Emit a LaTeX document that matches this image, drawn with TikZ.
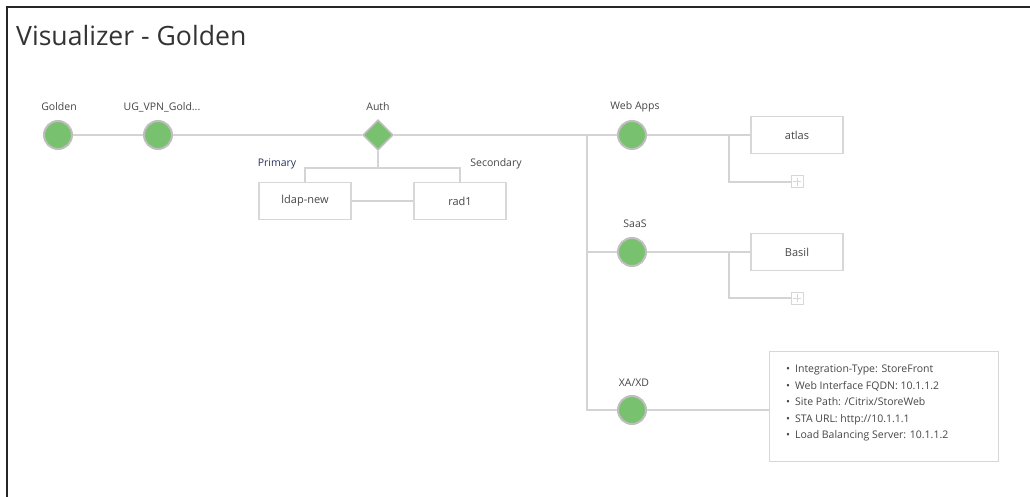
\documentclass[tikz,border=0pt]{standalone}
\usepackage{fontspec}
\setmainfont{Open Sans}
\usetikzlibrary{shapes.geometric}
\definecolor{nodegreen}{RGB}{120,193,110}
\definecolor{ringgray}{RGB}{190,190,190}
\definecolor{linegray}{RGB}{212,212,212}
\definecolor{boxgray}{RGB}{215,215,215}
\definecolor{txt}{RGB}{70,70,70}
\definecolor{navy}{RGB}{40,50,95}
\tikzset{
  dot/.style={circle, fill=nodegreen, draw=ringgray, line width=2pt, minimum size=28pt, inner sep=0pt},
  gate/.style={diamond, fill=nodegreen, draw=ringgray, line width=1.6pt, minimum size=30pt, inner sep=0pt},
  lbl/.style={font=\fontsize{10.5}{12}\selectfont, text=txt, inner sep=0pt},
  card/.style={draw=boxgray, line width=1.3pt, fill=white, minimum width=92pt, minimum height=37pt, inner sep=0pt, font=\fontsize{11}{13}\selectfont, text=txt},
  plusbox/.style={draw=boxgray, line width=1pt, fill=white, minimum size=12pt, inner sep=0pt},
  wire/.style={draw=linegray, line width=1.5pt},
}
\begin{document}
\begin{tikzpicture}[x=1pt,y=-1pt]
\useasboundingbox (0,0) rectangle (1030,497);
\fill[white] (0,0) rectangle (1030,497);
\draw[line width=2.2pt, black!85] (7,497) -- (7,7) -- (1030,7);
\node[anchor=west, font=\fontsize{26.6}{30}\selectfont, text=black!80, inner sep=0pt] (title) at (16,36) {Visualizer - Golden};

% main chain
\node[dot] (golden) at (58,135) {};
\node[dot] (ug) at (158,135) {};
\node[gate] (auth) at (378,135) {};
\node[dot] (web) at (632,135) {};
\node[dot] (saas) at (632,252) {};
\node[dot] (xa) at (632,410) {};

\node[lbl] (lgolden) at (59,107) {Golden};
\node[lbl] (lug) at (162,107) {UG\_VPN\_Gold...};
\node[lbl] (lauth) at (378,107) {Auth};
\node[lbl] (lweb) at (635,107) {Web Apps};
\node[lbl] (lsaas) at (635,224) {SaaS};
\node[lbl] (lxa) at (634,383) {XA/XD};

\coordinate (jn) at (587,135);
\coordinate (jx) at (587,410);
\coordinate (jsaas) at (587,252);

\path[wire] (golden) -- (ug);
\path[wire] (ug) -- (auth);
\path[wire] (auth) -- (jn) -- (web);
\path[wire] (jn) -- (jx) -- (xa);
\path[wire] (jsaas) -- (saas);

% auth branch
\node[card] (ldap) at (305,201) {ldap-new};
\node[card] (rad) at (460,201) {rad1};
\node[lbl, text=navy] (lprim) at (277,164) {Primary};
\node[lbl] (lsec) at (496,164) {Secondary};
\coordinate (ah) at (378,168);
\path[wire] (auth.south) -- (ah);
\path[wire] (ldap.north) -- (305,168) -- (460,168) -- (rad.north);
\path[wire] (ldap) -- (rad);

% web apps branch
\node[card] (atlas) at (797,135) {atlas};
\node[plusbox] (p1) at (797,182) {};
\draw[boxgray, line width=1pt] (p1.center) +(-4,0) -- +(4,0) (p1.center) +(0,-4) -- +(0,4);
\coordinate (w1) at (729,135);
\path[wire] (web) -- (atlas);
\path[wire] (w1) |- (p1);

% saas branch
\node[card] (basil) at (797,252) {Basil};
\node[plusbox] (p2) at (797,298) {};
\draw[boxgray, line width=1pt] (p2.center) +(-4,0) -- +(4,0) (p2.center) +(0,-4) -- +(0,4);
\coordinate (s1) at (729,252);
\path[wire] (saas) -- (basil);
\path[wire] (s1) |- (p2);

% xa/xd details
\node[draw=boxgray, line width=1.3pt, fill=white, anchor=north west, minimum width=229pt, minimum height=110pt, inner sep=0pt] (info) at (769,351) {};
\node[anchor=north west, inner sep=0pt, font=\fontsize{10.5}{16.5}\selectfont, text=txt, align=left] (infotxt) at (786,365) {%
\textbullet\hspace{5pt}Integration-Type: StoreFront\\
\textbullet\hspace{5pt}Web Interface FQDN: 10.1.1.2\\
\textbullet\hspace{5pt}Site Path: /Citrix/StoreWeb\\
\textbullet\hspace{5pt}STA URL: http://10.1.1.1\\
\textbullet\hspace{5pt}Load Balancing Server: 10.1.1.2};
\path[wire] (xa) -- (info.west |- xa);
\end{tikzpicture}
\end{document}
